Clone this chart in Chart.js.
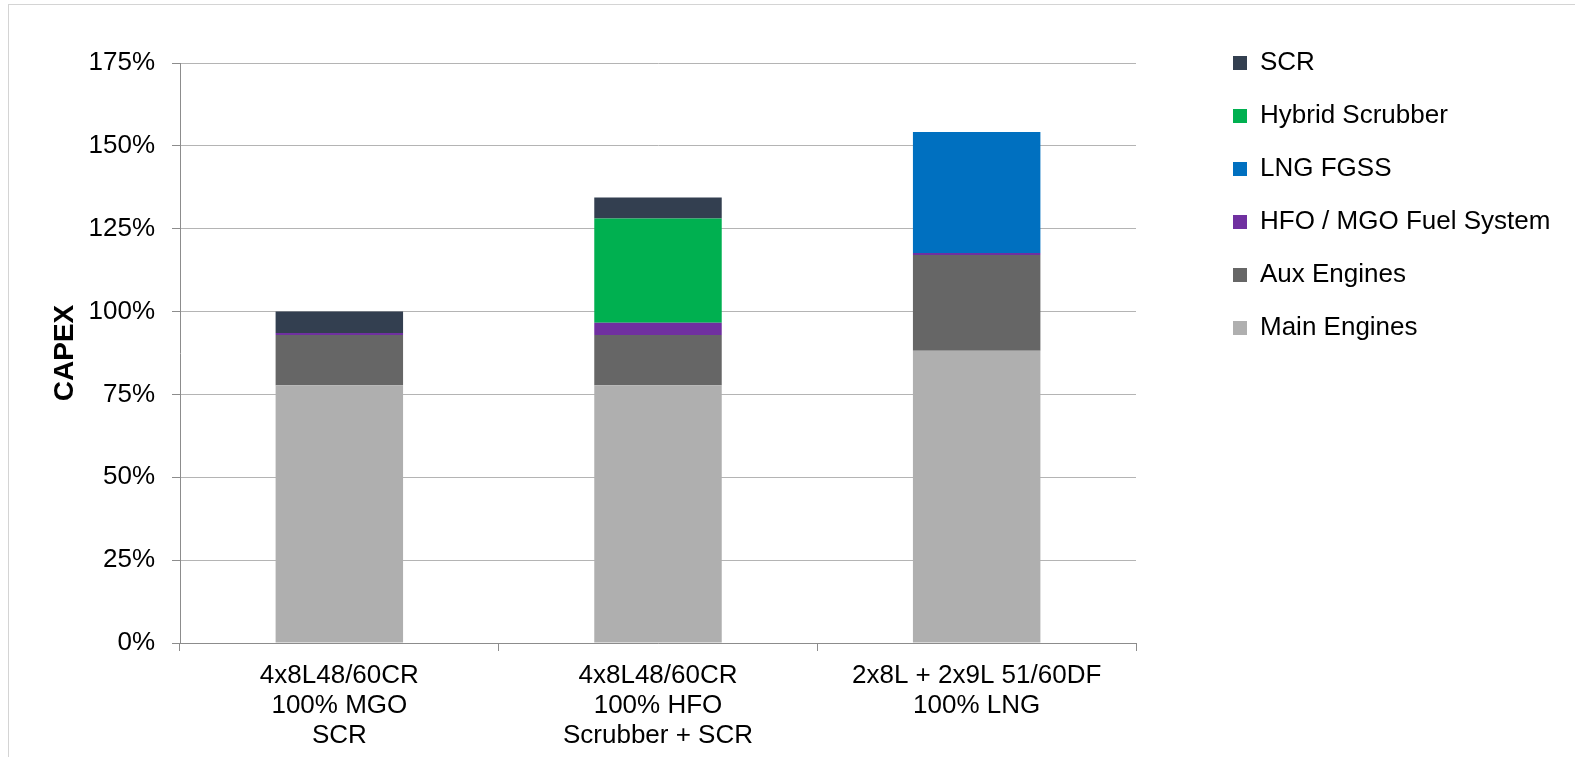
<!DOCTYPE html>
<html>
<head>
<meta charset="utf-8">
<script src="https://cdn.jsdelivr.net/npm/chart.js@4/dist/chart.umd.min.js"></script>
<style>
  html, body { margin: 0; padding: 0; background: #ffffff; }
  #frame { position: absolute; left: 8px; top: 4px; width: 1600px; height: 800px;
           border-left: 1px solid #d4d4d4; border-top: 1px solid #d4d4d4; }
  #wrap { position: absolute; left: 0; top: 0; width: 1575px; height: 757px; }
</style>
</head>
<body>
<div id="frame"></div>
<div id="wrap"><canvas id="c" width="1575" height="757"></canvas></div>
<script>
// Engine configurations compared (one stacked column each)
const categories = [
  ['4x8L48/60CR', '100% MGO', 'SCR'],
  ['4x8L48/60CR', '100% HFO', 'Scrubber + SCR'],
  ['2x8L + 2x9L 51/60DF', '100% LNG']
];

// CAPEX shares in % of the MGO + SCR reference case
const mainEngines     = [77.8, 77.8, 88.2];
const auxEngines      = [15.1, 15.1, 28.9];
const fuelSystem      = [0.6, 3.7, 0.6];
const lngFgss         = [0, 0, 36.5];
const hybridScrubber  = [0, 31.5, 0];
const scr             = [6.5, 6.3, 0];

const yTicks = [0, 25, 50, 75, 100, 125, 150, 175];

const FONT = "'Liberation Sans', Arial, Helvetica, sans-serif";

const seriesDefs = [
  { label: 'Main Engines',          data: mainEngines,    color: '#afafaf' },
  { label: 'Aux Engines',           data: auxEngines,     color: '#666666' },
  { label: 'HFO / MGO Fuel System', data: fuelSystem,     color: '#7030a0' },
  { label: 'LNG FGSS',              data: lngFgss,        color: '#0070c0' },
  { label: 'Hybrid Scrubber',       data: hybridScrubber, color: '#00b050' },
  { label: 'SCR',                   data: scr,            color: '#333f50' }
];

// plot-area geometry on the canvas
const PLOT_LEFT = 180, PLOT_TOP = 63, PLOT_RIGHT = 1136, PLOT_BOTTOM = 643;
const LEGEND_BOX_X = 1233, LEGEND_FIRST_Y = 63, LEGEND_GAP = 27, LEGEND_FONT = 26;

// place the legend column at a fixed spot to the right of the plot
const legendPlacer = {
  id: 'legendPlacer',
  afterLayout(chart) {
    const lg = chart.legend;
    if (!lg) return;
    const w = lg.width, h = lg.height;
    lg.left = LEGEND_BOX_X - LEGEND_GAP;
    lg.right = lg.left + w;
    lg.top = LEGEND_FIRST_Y - LEGEND_FONT / 2 - LEGEND_GAP;
    lg.bottom = lg.top + h;
    if (lg.adjustHitBoxes) lg.adjustHitBoxes();
  }
};

new Chart(document.getElementById('c'), {
  type: 'bar',
  data: {
    labels: categories,
    datasets: seriesDefs.map(s => ({
      label: s.label,
      data: s.data,
      backgroundColor: s.color,
      borderWidth: 0,
      barPercentage: 0.4,
      categoryPercentage: 1.0
    }))
  },
  options: {
    responsive: false,
    animation: false,
    events: [],
    layout: { padding: { left: 0, right: 0, top: 0, bottom: 0 } },
    plugins: {
      tooltip: { enabled: false },
      legend: {
        position: 'right',
        align: 'start',
        reverse: true,
        labels: {
          boxWidth: 14,
          boxHeight: 14,
          padding: LEGEND_GAP,
          color: '#000000',
          font: { family: FONT, size: LEGEND_FONT }
        }
      }
    },
    scales: {
      x: {
        stacked: true,
        grid: {
          display: true,
          drawOnChartArea: false,
          drawTicks: true,
          offset: true,
          tickLength: 8,
          color: '#8c8c8c'
        },
        border: { display: true, color: '#8c8c8c', width: 1 },
        ticks: {
          color: '#000000',
          padding: 10,
          maxRotation: 0,
          autoSkip: false,
          font: { family: FONT, size: 26, lineHeight: 1.15 }
        },
        afterFit(scale) {
          scale.height = 757 - PLOT_BOTTOM;
          scale.paddingRight = 1575 - PLOT_RIGHT;
          scale.paddingLeft = 0;
        }
      },
      y: {
        stacked: true,
        min: 0,
        max: 175,
        afterBuildTicks(scale) {
          scale.ticks = yTicks.map(v => ({ value: v }));
        },
        grid: {
          color: '#b4b4b4',
          tickLength: 8,
          drawTicks: true,
          tickColor: '#8c8c8c'
        },
        border: { display: true, color: '#8c8c8c', width: 1 },
        ticks: {
          color: '#000000',
          padding: 17,
          font: { family: FONT, size: 26 },
          callback: v => v + '%'
        },
        title: {
          display: true,
          text: 'CAPEX',
          color: '#000000',
          font: { family: FONT, size: 28, weight: 'bold', lineHeight: 1.2 },
          padding: { top: 48, bottom: 0 }
        },
        afterFit(scale) {
          scale.width = PLOT_LEFT;
          scale.paddingTop = PLOT_TOP;
        }
      }
    }
  },
  plugins: [legendPlacer]
});
</script>
</body>
</html>
